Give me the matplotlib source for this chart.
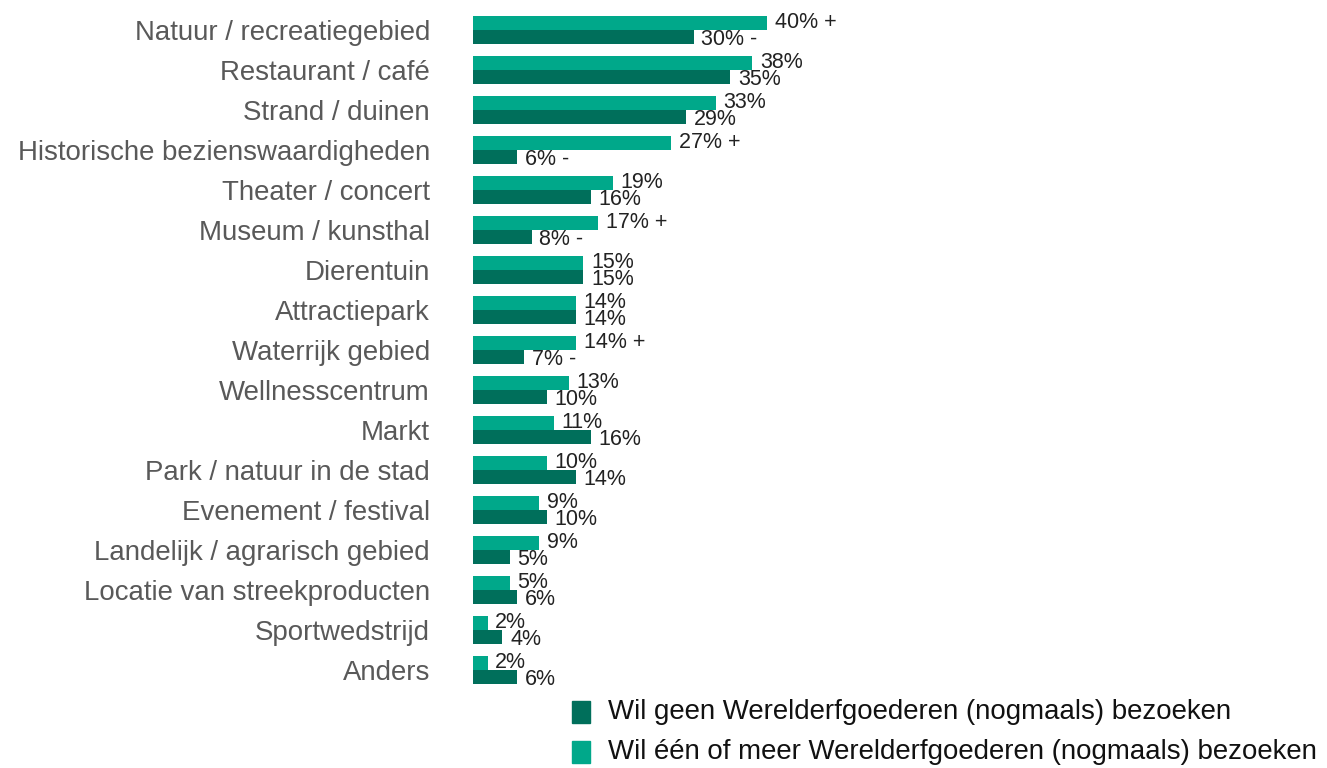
import matplotlib
matplotlib.use("Agg")
import matplotlib.pyplot as plt
from matplotlib.patches import Rectangle
import numpy as np

plt.rcParams['font.family'] = ['Liberation Sans', 'DejaVu Sans']

categories = ["Natuur / recreatiegebied", "Restaurant / café", "Strand / duinen",
              "Historische bezienswaardigheden", "Theater / concert", "Museum / kunsthal",
              "Dierentuin", "Attractiepark", "Waterrijk gebied", "Wellnesscentrum",
              "Markt", "Park / natuur in de stad", "Evenement / festival",
              "Landelijk / agrarisch gebied", "Locatie van streekproducten",
              "Sportwedstrijd", "Anders"]
wil_wel = [40, 38, 33, 27, 19, 17, 15, 14, 14, 13, 11, 10, 9, 9, 5, 2, 2]
wil_geen = [30, 35, 29, 6, 16, 8, 15, 14, 7, 10, 16, 14, 10, 5, 6, 4, 6]
sig_wel = ["+", "", "", "+", "", "+", "", "", "+", "", "", "", "", "", "", "", ""]
sig_geen = ["-", "", "", "-", "", "-", "", "", "-", "", "", "", "", "", "", "", ""]
legend_labels = ["Wil geen Werelderfgoederen (nogmaals) bezoeken",
                 "Wil één of meer Werelderfgoederen (nogmaals) bezoeken"]

c_light = "#00A88A"
c_dark = "#006F5B"

W, H = 1327, 768
fig = plt.figure(figsize=(W / 100, H / 100), dpi=100)
ax_left = 473 / W
ax_right = 1300 / W
ax_top = 1 - 10 / H
ax_bot = 1 - 690 / H
ax = fig.add_axes([ax_left, ax_bot, ax_right - ax_left, ax_top - ax_bot])

y = np.arange(len(categories))
h = 0.35
ax.barh(y - h / 2, wil_wel, height=h, color=c_light, label=legend_labels[1])
ax.barh(y + h / 2, wil_geen, height=h, color=c_dark, label=legend_labels[0])

ax.set_xlim(0, 827 / 7.35)
ax.set_ylim(len(categories) - 0.5, -0.5)

for i in range(len(categories)):
    ax.annotate(f"{wil_wel[i]}%" + (" " + sig_wel[i] if sig_wel[i] else ""),
                xy=(wil_wel[i], i - h / 2), xytext=(5.5, 0.5), textcoords="offset points",
                va="center", ha="left", fontsize=15.5, color="#222222")
    ax.annotate(f"{wil_geen[i]}%" + (" " + sig_geen[i] if sig_geen[i] else ""),
                xy=(wil_geen[i], i + h / 2), xytext=(5.5, -1.5), textcoords="offset points",
                va="center", ha="left", fontsize=15.5, color="#222222")

ax.set_yticks(y)
ax.set_yticklabels(categories, fontsize=19.9, color="#595959")
ax.tick_params(axis="y", length=0, pad=31)
ax.set_xticks([])
for s in ax.spines.values():
    s.set_visible(False)

# legend
for k, (lab, col) in enumerate(zip(legend_labels, [c_dark, c_light])):
    yc = 712 + 40 * k
    fig.patches.append(Rectangle((572 / W, 1 - (yc + 11) / H), 18 / W, 22 / H,
                                 transform=fig.transFigure, color=col))
    fig.text(608 / W, 1 - yc / H, lab, fontsize=19.9, color="#111111", va="center", ha="left")

fig.savefig("out.png", dpi=100)
